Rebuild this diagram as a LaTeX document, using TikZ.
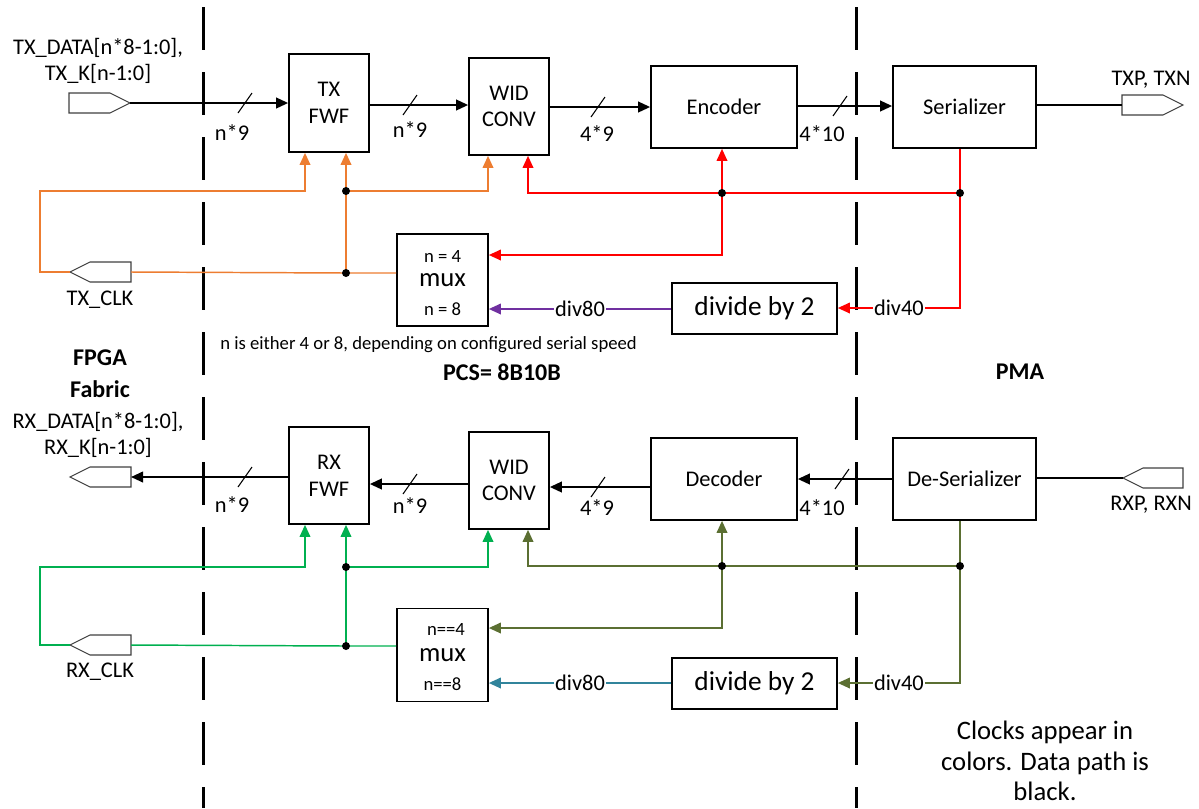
\documentclass[tikz,border=0pt]{standalone}
\usepackage{fontspec}
\setmainfont{Carlito}
\usetikzlibrary{arrows.meta,calc}
\definecolor{corng}{HTML}{ED7D31}
\definecolor{cred}{HTML}{FF0000}
\definecolor{cpurp}{HTML}{7030A0}
\definecolor{cgreen}{HTML}{00B050}
\definecolor{colive}{HTML}{5B6F32}
\definecolor{cteal}{HTML}{31849B}
\definecolor{cport}{HTML}{404040}
\begin{document}
\begin{tikzpicture}[x=0.75pt,y=-0.75pt,
  every node/.style={font=\fontsize{16.8}{20}\selectfont, inner sep=0pt},
  box/.style={draw=black, line width=1.3pt, fill=white, align=center},
  data/.style={line width=1.4pt, -{Triangle[length=9pt,width=8pt]}},
  plain/.style={line width=1.4pt},
  clk/.style={line width=1.1pt, -{Triangle[length=9pt,width=8pt]}},
  wire/.style={line width=1.1pt},
  jdot/.style={circle, fill=black, inner sep=0pt, minimum size=6pt},
  bus/.style={line width=0.8pt},
  port/.style={draw=cport, line width=0.8pt, fill=white},
  divider/.style={line width=2.25pt, dash pattern=on 32.25pt off 16.5pt},
  lbl/.style={fill=white, inner xsep=1pt, inner ysep=1pt},
  small/.style={font=\fontsize{14}{16}\selectfont},
  head/.style={font=\fontsize{18}{24}\bfseries\selectfont, align=center},
]
\useasboundingbox (0,0) rectangle (1199,808);

% ---------- dividers ----------
\draw[divider] (203,7) -- (203,808);
\draw[divider] (856,7) -- (856,808);

% ---------- TX blocks ----------
\node[box, minimum width=60pt, minimum height=73.5pt] (txfwf) at (329,103) {TX\\FWF};
\node[box, minimum width=60pt, minimum height=72.75pt] (txwid) at (509,106.5) {WID\\CONV};
\node[box, minimum width=109.5pt, minimum height=61.5pt] (enc) at (724,107) {Encoder};
\node[box, minimum width=107.25pt, minimum height=61.5pt] (ser) at (964.5,107) {Serializer};
\node[box, minimum width=68.25pt, minimum height=69pt, font=\fontsize{20}{22}\selectfont] (txmux) at (442.5,280) {mux};
\node[small] (txn4) at (442.5,256) {n = 4};
\node[small] (txn8) at (442.5,309) {n = 8};
\node[box, minimum width=123.75pt, minimum height=38.25pt, font=\fontsize{20.5}{22}\selectfont] (txdiv) at (754.5,308.5) {divide by 2};

% ---------- TX ports ----------
\draw[port] (69,93) -- (110,93) -- (130,103) -- (110,113) -- (69,113) -- cycle;
\coordinate (txin) at (130,103);
\node[align=center] (txdatalbl) at (98,61) {TX\_DATA[n*8-1:0],\\TX\_K[n-1:0]};
\draw[port] (1122,95) -- (1163,95) -- (1183,105) -- (1163,115) -- (1122,115) -- cycle;
\coordinate (txout) at (1122,105);
\node (txplbl) at (1151,80) {TXP, TXN};
\draw[port] (70,272) -- (90,262) -- (131,262) -- (131,282) -- (90,282) -- cycle;
\coordinate (txclkL) at (70,272);
\coordinate (txclkR) at (131,272);
\node (txclklbl) at (100,300) {TX\_CLK};

% ---------- TX data path ----------
\draw[data] (txin) -- (txfwf.west |- txin);
\draw[data] (txfwf.east |- 0,105) -- (txwid.west |- 0,105);
\draw[data] (txwid.east |- 0,107) -- (enc.west |- 0,107);
\draw[data] (enc.east |- 0,106) -- (ser.west |- 0,106);
\draw[plain] (ser.east |- txout) -- (txout);
\draw[bus] (238,113) -- (252,93);
\draw[bus] (403,115) -- (417,95);
\draw[bus] (591,117) -- (605,97);
\draw[bus] (833,116) -- (847,96);
\node (b1) at (232,133) {n*9};
\node (b2) at (410,130) {n*9};
\node (b3) at (597,134) {4*9};
\node (b4) at (822,134) {4*10};

% ---------- TX clocks ----------
\coordinate (tj1) at (346,191);
\coordinate (tj2) at (346,273);
\coordinate (tj3) at (722,193);
\coordinate (tj4) at (960,193);
\draw[wire, corng] (txclkR) -- (tj2) -- (txmux.west |- tj2);
\draw[clk, corng] (txclkL) -- (40,272) -- (40,191) -- (305,191) -- (txfwf.south -| 305,0);
\draw[clk, corng] (tj2) -- (txfwf.south -| tj2);
\draw[clk, corng] (tj1) -- (488,191) -- (txwid.south -| 488,0);
\draw[wire, cred] (ser.south -| tj4) -- (tj4);
\draw[clk, cred] (tj4) -- (960,308) -- (txdiv.east |- 0,308) node[pos=0.5, lbl, text=black] (div40a) {div40};
\draw[wire, cred] (tj4) -- (tj3);
\draw[clk, cred] (tj3) -- (528,193) -- (txwid.south -| 528,0);
\draw[clk, cred] (tj3) -- (enc.south -| tj3);
\draw[clk, cred] (tj3) -- (722,255) -- (txmux.east |- 0,255);
\draw[clk, cpurp] (txdiv.west |- 0,309) -- (txmux.east |- 0,309) node[pos=0.5, lbl, text=black] (div80a) {div80};
\foreach \j in {tj1,tj2,tj3,tj4} \node[jdot] at (\j) {};

% ---------- middle labels ----------
\node[small, anchor=west] (note) at (220,345) {n is either 4 or 8, depending on configured serial speed};
\node[head] (fpga) at (100,374) {FPGA\\Fabric};
\node[head] (pcs) at (502,372) {PCS= 8B10B};
\node[head] (pma) at (1020,372) {PMA};

% ---------- RX blocks ----------
\node[box, minimum width=60pt, minimum height=72.75pt] (rxfwf) at (329,475.5) {RX\\FWF};
\node[box, minimum width=60pt, minimum height=72.75pt] (rxwid) at (509,480.5) {WID\\CONV};
\node[box, minimum width=109.5pt, minimum height=61.5pt] (dec) at (724,479) {Decoder};
\node[box, minimum width=107.25pt, minimum height=61.5pt] (des) at (964.5,479) {De-Serializer};
\node[box, minimum width=68.25pt, minimum height=69.75pt, font=\fontsize{20}{22}\selectfont] (rxmux) at (442.5,655) {mux};
\node[small] (rxn4) at (446,629) {n==4};
\node[small] (rxn8) at (442.5,684) {n==8};
\node[box, minimum width=123.75pt, minimum height=38.25pt, font=\fontsize{20.5}{22}\selectfont] (rxdiv) at (754.5,683.5) {divide by 2};

% ---------- RX ports ----------
\draw[port] (70,477) -- (90,467) -- (131,467) -- (131,487) -- (90,487) -- cycle;
\coordinate (rxout) at (131,477);
\node[align=center] (rxdatalbl) at (98,435) {RX\_DATA[n*8-1:0],\\RX\_K[n-1:0]};
\draw[port] (1123,478) -- (1143,468) -- (1183,468) -- (1183,488) -- (1143,488) -- cycle;
\coordinate (rxin) at (1123,478);
\node (rxplbl) at (1151,505) {RXP, RXN};
\draw[port] (70,645) -- (90,635) -- (131,635) -- (131,655) -- (90,655) -- cycle;
\coordinate (rxclkL) at (70,645);
\coordinate (rxclkR) at (131,645);
\node (rxclklbl) at (100,672) {RX\_CLK};

% ---------- RX data path ----------
\draw[data] (rxfwf.west |- rxout) -- (rxout);
\draw[data] (rxwid.west |- 0,484) -- (rxfwf.east |- 0,484);
\draw[data] (dec.west |- 0,487) -- (rxwid.east |- 0,487);
\draw[data] (des.west |- 0,479) -- (dec.east |- 0,479);
\draw[plain] (rxin) -- (des.east |- rxin);
\draw[bus] (238,487) -- (252,467);
\draw[bus] (403,494) -- (417,474);
\draw[bus] (591,497) -- (605,477);
\draw[bus] (835,489) -- (849,469);
\node (c1) at (232,505) {n*9};
\node (c2) at (410,506) {n*9};
\node (c3) at (597,508) {4*9};
\node (c4) at (822,508) {4*10};

% ---------- RX clocks ----------
\coordinate (rj1) at (346,567);
\coordinate (rj2) at (346,646);
\coordinate (rj3) at (722,566);
\coordinate (rj4) at (960,566);
\draw[wire, cgreen] (rxclkR) -- (rj2) -- (rxmux.west |- rj2);
\draw[clk, cgreen] (rxclkL) -- (40,645) -- (40,567) -- (305,567) -- (rxfwf.south -| 305,0);
\draw[clk, cgreen] (rj2) -- (rxfwf.south -| rj2);
\draw[clk, cgreen] (rj1) -- (488,567) -- (rxwid.south -| 488,0);
\draw[wire, colive] (des.south -| rj4) -- (rj4);
\draw[clk, colive] (rj4) -- (960,683) -- (rxdiv.east |- 0,683) node[pos=0.5, lbl, text=black] (div40b) {div40};
\draw[wire, colive] (rj4) -- (rj3);
\draw[clk, colive] (rj3) -- (528,566) -- (rxwid.south -| 528,0);
\draw[clk, colive] (rj3) -- (dec.south -| rj3);
\draw[clk, colive] (rj3) -- (722,628) -- (rxmux.east |- 0,628);
\draw[clk, cteal] (rxdiv.west |- 0,683) -- (rxmux.east |- 0,683) node[pos=0.5, lbl, text=black] (div80b) {div80};
\foreach \j in {rj1,rj2,rj3,rj4} \node[jdot] at (\j) {};

% ---------- note ----------
\node[align=center, font=\fontsize{20}{23}\selectfont] (clocknote) at (1045,761) {Clocks appear in\\colors. Data path is\\black.};
\end{tikzpicture}
\end{document}
